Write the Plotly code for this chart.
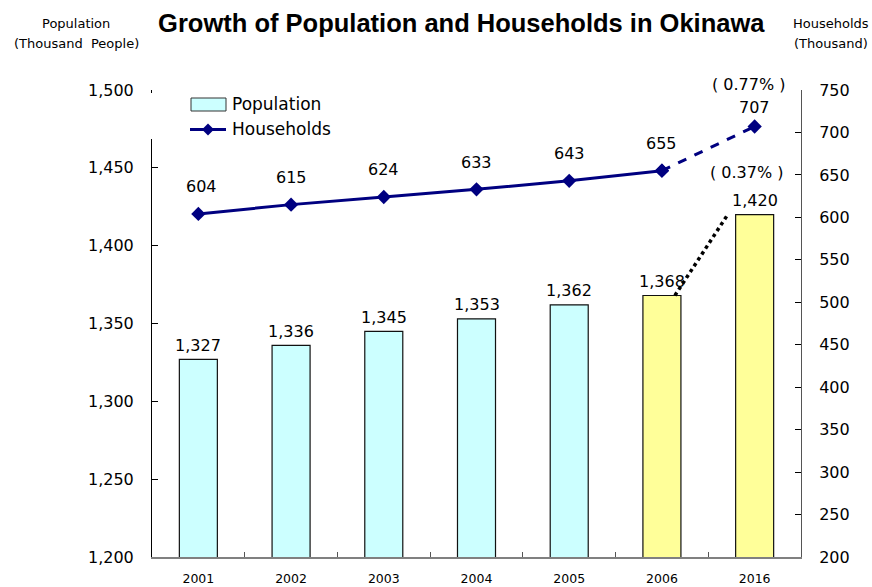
import plotly.graph_objects as go

# Survey years and values (thousands)
years = ["2001", "2002", "2003", "2004", "2005", "2006", "2016"]
population = [1327, 1336, 1345, 1353, 1362, 1368, 1420]
households = [604, 615, 624, 633, 643, 655, 707]
pop_rate = "0.37%"
hh_rate = "0.77%"

# Styling
CYAN = "#CCFFFF"
YELLOW = "#FFFF99"
NAVY = "#000080"
bar_colors = [CYAN] * 5 + [YELLOW] * 2
LABEL_FONT = dict(family="DejaVu Sans", size=16, color="black")
TICK_FONT = dict(family="DejaVu Sans", size=16, color="black")


def spaced_parens(s):
    return "( " + s + " )"


xs = list(range(len(years)))
boundaries = [x + 0.5 for x in xs[:-1]]

fig = go.Figure()

# Population bars (left axis)
fig.add_trace(go.Bar(
    x=xs, y=population, width=0.41,
    marker=dict(color=bar_colors, line=dict(color="#111111", width=1.2)),
    showlegend=False, hoverinfo="skip",
))

# Dotted connector between the 2006 and 2016 population bars
fig.add_trace(go.Scatter(
    x=[xs[5] + 0.14, xs[6] - 0.29], y=[population[5], population[6]],
    xaxis="x2", mode="lines", line=dict(color="black", width=3.5, dash="dot"),
    showlegend=False, hoverinfo="skip",
))

# Households line (right axis): solid for annual data, dashed to the projection
fig.add_trace(go.Scatter(
    x=xs[:6], y=households[:6], yaxis="y2", mode="lines+markers",
    line=dict(color=NAVY, width=3),
    marker=dict(symbol="diamond", size=11, color=NAVY),
    showlegend=False, hoverinfo="skip",
))
fig.add_trace(go.Scatter(
    x=xs[5:], y=households[5:], yaxis="y2", mode="lines+markers",
    line=dict(color=NAVY, width=3, dash="dash"),
    marker=dict(symbol="diamond", size=11, color=NAVY),
    showlegend=False, hoverinfo="skip",
))

annotations = []
# Bar value labels
for x, v in zip(xs, population):
    annotations.append(dict(x=x, y=v, xref="x", yref="y", text=f"{v:,}",
                            showarrow=False, yshift=14, font=LABEL_FONT))
# Household value labels
for i, (x, v) in enumerate(zip(xs, households)):
    annotations.append(dict(x=x, y=v, xref="x", yref="y2", text=f"{v}",
                            showarrow=False, yshift=19 if i == 6 else 27,
                            xshift=3 if i == 0 else 0, font=LABEL_FONT))
# Growth-rate labels for the 2016 projection
annotations.append(dict(x=xs[6], y=households[6], xref="x", yref="y2",
                        text=spaced_parens(hh_rate), showarrow=False, yshift=42, xshift=-6,
                        font=LABEL_FONT))
annotations.append(dict(x=xs[6], y=population[6], xref="x", yref="y",
                        text=spaced_parens(pop_rate), showarrow=False, yshift=42, xshift=-8,
                        font=LABEL_FONT))

# Axis titles
AX_FONT = dict(family="DejaVu Sans", size=13, color="black")
annotations += [
    dict(x=-0.117, y=1.142, xref="paper", yref="paper", text="Population",
         showarrow=False, font=AX_FONT, xanchor="center", yanchor="middle"),
    dict(x=-0.117, y=1.099, xref="paper", yref="paper", text="(Thousand  People)",
         showarrow=False, font=AX_FONT, xanchor="center", yanchor="middle"),
    dict(x=1.046, y=1.142, xref="paper", yref="paper", text="Households",
         showarrow=False, font=AX_FONT, xanchor="center", yanchor="middle"),
    dict(x=1.046, y=1.099, xref="paper", yref="paper", text="(Thousand)",
         showarrow=False, font=AX_FONT, xanchor="center", yanchor="middle"),
]

# Legend drawn with shapes and text
PW, PH = 649.0, 467.0


def px(xp):
    return (xp - 152) / PW


def py(yp):
    return (557 - yp) / PH


LEG_FONT = dict(family="DejaVu Sans", size=17, color="black")
annotations += [
    dict(x=px(230), y=py(104), xref="paper", yref="paper", text="Population",
         showarrow=False, font=LEG_FONT, xanchor="left", yanchor="middle"),
    dict(x=px(230), y=py(129), xref="paper", yref="paper", text="Households",
         showarrow=False, font=LEG_FONT, xanchor="left", yanchor="middle"),
]

shapes = [
    # white backing of the legend box
    dict(type="rect", xref="paper", yref="paper", x0=px(148), x1=px(156),
         y0=py(139), y1=py(93), fillcolor="white", line=dict(width=0), layer="above"),
    dict(type="rect", xref="paper", yref="paper", x0=px(191), x1=px(226),
         y0=py(111), y1=py(98), fillcolor=CYAN, line=dict(color="#333333", width=1),
         layer="above"),
    dict(type="line", xref="paper", yref="paper", x0=px(190), x1=px(226),
         y0=py(129.5), y1=py(129.5), line=dict(color=NAVY, width=3), layer="above"),
    dict(type="path", xref="paper", yref="paper", xsizemode="pixel", ysizemode="pixel",
         xanchor=px(208), yanchor=py(129.5), path="M0,6 L6,0 L0,-6 L-6,0 Z",
         fillcolor=NAVY, line=dict(color=NAVY, width=0), layer="above"),
]

fig.update_layout(
    width=872, height=587,
    margin=dict(l=152, r=71, t=90, b=30),
    paper_bgcolor="white", plot_bgcolor="white",
    title=dict(text="<b>Growth of Population and Households in Okinawa</b>",
               x=0.529, xanchor="center", y=0.960, yanchor="middle",
               font=dict(family="Liberation Sans", size=25.5, color="black")),
    xaxis=dict(range=[-0.5, 6.5], tickmode="array", tickvals=xs, ticktext=years,
               ticks="", showgrid=False, zeroline=False, automargin=False,
               showline=True, linecolor="#808080", linewidth=1.5,
               tickfont=dict(family="DejaVu Sans", size=12.5, color="black"),
               ticklabelstandoff=9),
    # category boundary ticks
    xaxis2=dict(range=[-0.5, 6.5], overlaying="x", anchor="y", side="bottom",
                tickmode="array", tickvals=boundaries, ticks="inside", ticklen=5,
                tickcolor="#555555", tickwidth=1, showticklabels=False,
                showgrid=False, zeroline=False, showline=False, automargin=False),
    yaxis=dict(range=[1200, 1500], dtick=50, tickformat=",", ticks="inside",
               ticklen=6, tickcolor="black", showgrid=False, zeroline=False,
               showline=True, linecolor="black", linewidth=1, automargin=False,
               tickfont=TICK_FONT, ticklabelstandoff=14),
    yaxis2=dict(range=[200, 750], dtick=50, overlaying="y", side="right",
                ticks="inside", ticklen=6, tickcolor="black", showgrid=False,
                zeroline=False, showline=True, linecolor="#555555", linewidth=1,
                automargin=False, tickfont=TICK_FONT, ticklabelstandoff=14),
    annotations=annotations,
    shapes=shapes,
    bargap=0.59,
)

fig.write_html("out.html")
